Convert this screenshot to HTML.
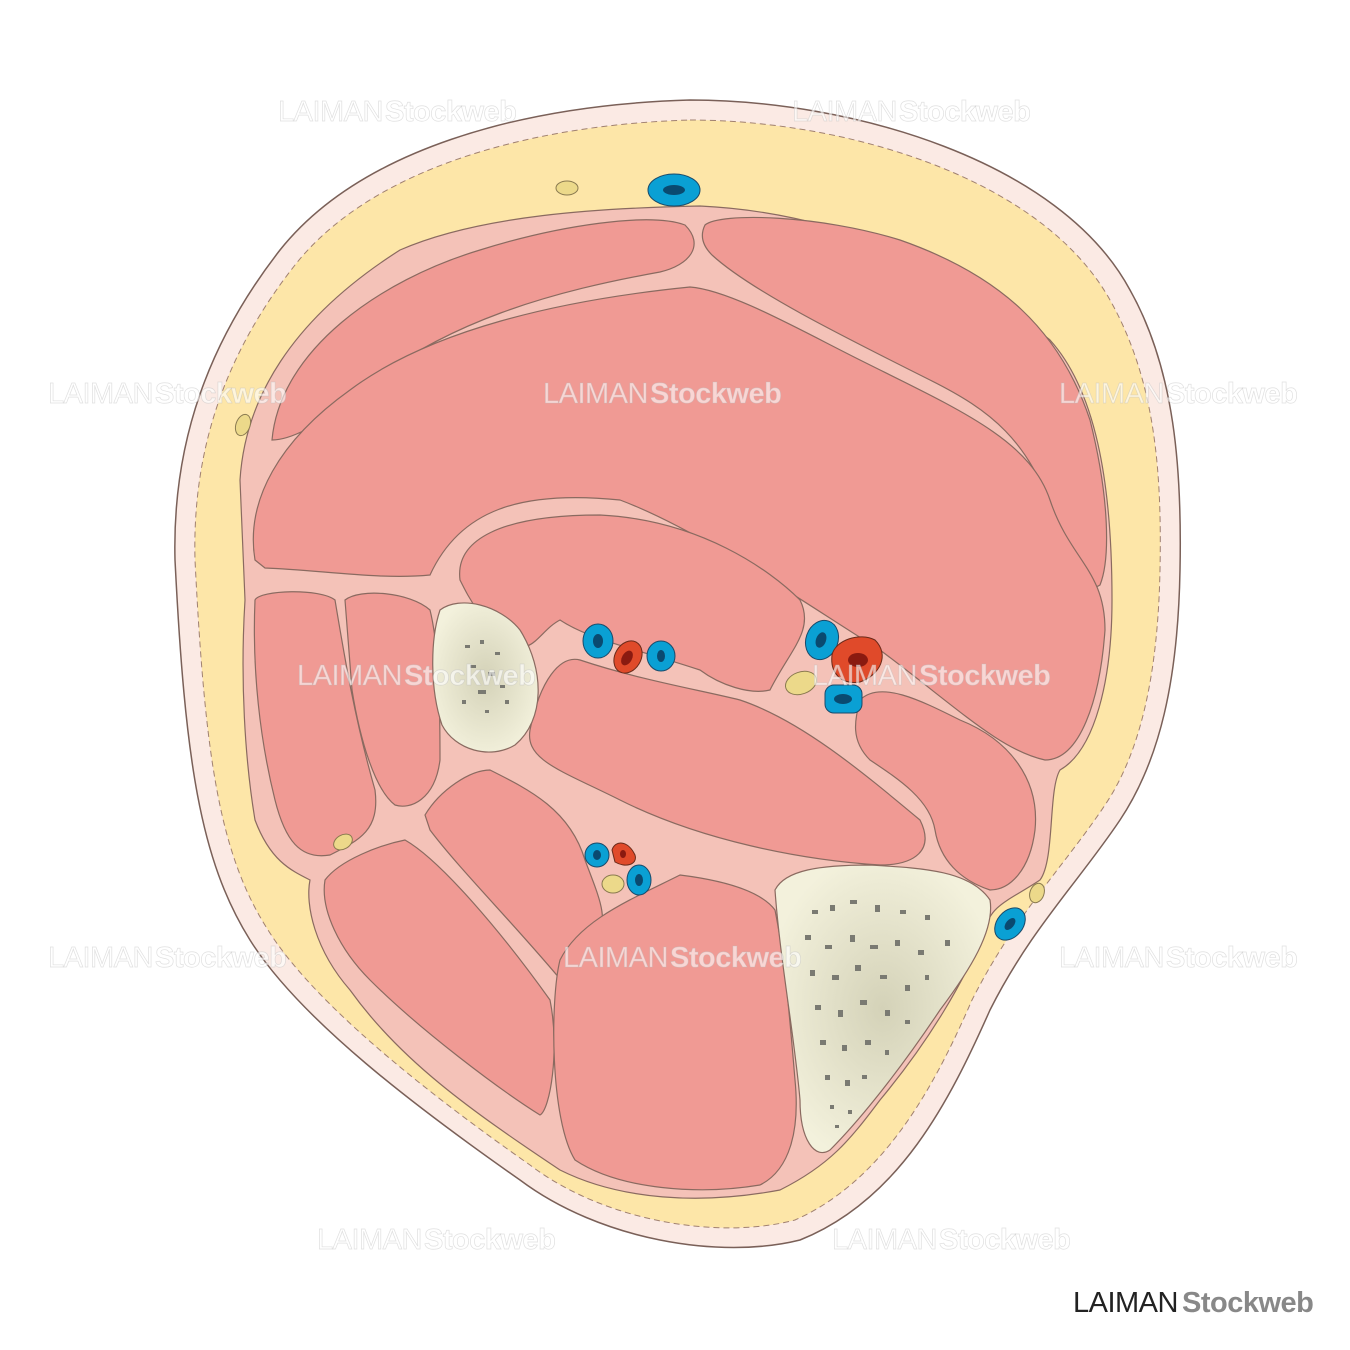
<!DOCTYPE html>
<html><head><meta charset="utf-8"><style>
html,body{margin:0;padding:0;background:#fff;}
svg{display:block}
.wm{font-family:"Liberation Sans",sans-serif;font-size:29px;fill:#fff;fill-opacity:.6;stroke:#bbb;stroke-opacity:.45;stroke-width:.7;letter-spacing:-0.5px}
.wm tspan.b{font-weight:bold}
</style></head><body>
<svg width="1350" height="1350" viewBox="0 0 1350 1350" xmlns="http://www.w3.org/2000/svg">
<defs>
<radialGradient id="bg" cx="50%" cy="50%" r="55%"><stop offset="0" stop-color="#d4d2b8"/><stop offset="1" stop-color="#f3f1dc"/></radialGradient>
</defs>
<path d="M690,100 C850,100 1060,160 1130,290 C1175,370 1182,470 1180,570 C1178,680 1160,760 1120,820 C1080,880 1030,930 990,1010 C950,1100 900,1200 800,1240 C720,1260 600,1240 520,1180 C420,1110 300,1020 250,940 C200,860 185,760 175,560 C172,440 210,340 280,250 C360,150 520,105 690,100 Z" fill="#fbeae4" stroke="#7a6058" stroke-width="1.5"/>
<path d="M690,120 C840,120 1040,175 1110,300 C1155,380 1162,470 1160,570 C1158,670 1142,750 1105,805 C1065,865 1015,915 972,1000 C935,1085 885,1180 795,1220 C720,1240 605,1222 530,1165 C430,1095 315,1005 268,930 C220,855 205,760 195,560 C192,445 228,350 295,265 C370,170 525,125 690,120 Z" fill="#fde6a8" stroke="#a08070" stroke-width="1" stroke-dasharray="6,4"/>
<path d="M240,480 C245,400 290,320 400,250 C480,215 600,208 700,206 C830,212 960,265 1050,340 C1095,390 1112,480 1112,600 C1112,680 1095,750 1060,770 C1048,790 1055,860 1040,880 C1010,900 990,905 985,930 C965,980 930,1040 880,1100 C850,1140 830,1165 780,1190 C700,1205 620,1200 560,1170 C470,1110 400,1060 350,990 C315,950 305,905 310,880 C290,870 270,860 255,820 C245,760 240,680 245,600 Z" fill="#f4c2b8" stroke="#8a6a60" stroke-width="1.2"/>
<g fill="#f09a94" stroke="#8a6a60" stroke-width="1.2">
<path d="M272,440 C280,350 380,280 480,250 C560,225 650,212 685,225 C705,245 690,265 660,272 C560,290 440,320 350,400 C320,425 290,440 272,440 Z"/>
<path d="M705,225 C720,212 820,215 900,240 C1000,275 1060,330 1090,420 C1110,500 1110,560 1100,585 C1085,595 1070,570 1055,520 C1030,440 990,410 930,380 C840,335 750,290 712,255 C702,245 700,235 705,225 Z"/>
<path d="M255,560 C245,500 280,440 350,390 C430,330 560,300 690,287 C730,290 800,330 860,360 C960,410 1030,440 1050,500 C1070,560 1105,570 1105,630 C1100,700 1080,760 1045,760 C1000,750 960,710 880,650 C800,600 700,530 620,500 C520,490 460,510 430,575 C380,580 320,570 265,568 Z"/>
<path d="M460,580 C455,540 500,515 600,515 C700,520 770,570 800,600 C815,630 790,650 770,690 C750,695 720,685 700,670 C640,650 590,640 560,620 C540,630 530,660 510,640 C480,620 470,600 460,580 Z"/>
<path d="M255,600 C260,590 320,588 335,600 C345,660 355,720 375,790 C380,830 360,840 330,855 C300,860 285,840 275,800 C260,740 252,670 255,600 Z"/>
<path d="M345,600 C360,588 410,592 430,610 C440,650 440,720 440,760 C435,800 410,810 395,805 C375,790 360,740 352,690 Z"/>
<path d="M530,730 C540,680 560,655 580,660 C640,680 700,690 740,700 C800,720 860,770 920,820 C935,850 915,865 880,865 C800,860 700,840 620,800 C560,770 525,760 530,730 Z"/>
<path d="M860,700 C880,680 920,700 960,720 C1010,740 1040,780 1035,830 C1030,870 1010,890 990,890 C960,880 940,860 935,830 C930,800 900,780 870,760 C850,740 855,720 860,700 Z"/>
<path d="M325,880 C340,860 380,845 405,840 C440,860 500,930 550,1000 C560,1050 550,1110 540,1115 C500,1090 420,1030 370,980 C340,950 320,910 325,880 Z"/>
<path d="M425,815 C440,790 470,770 490,770 C530,790 570,810 585,860 C600,900 610,920 595,940 C580,960 575,975 565,985 C520,930 460,870 430,830 Z"/>
<path d="M560,960 C580,920 630,900 680,875 C720,880 760,890 775,910 C785,960 790,1020 795,1080 C800,1130 790,1170 760,1185 C700,1195 620,1190 575,1160 C550,1120 550,1000 560,960 Z"/>
</g>
<path d="M440,610 C460,595 500,605 520,630 C545,670 545,720 515,745 C490,760 455,750 442,725 C430,690 430,640 440,610 Z" fill="url(#bg)" stroke="#8a6a60" stroke-width="1.2"/>
<path d="M775,890 C785,870 820,865 870,865 C920,868 970,870 990,900 C995,930 970,970 940,1010 C900,1070 860,1120 830,1150 C815,1160 800,1140 800,1100 C795,1040 780,960 775,890 Z" fill="url(#bg)" stroke="#8a6a60" stroke-width="1.2"/>
<g fill="#7a7a72">
<rect x="465" y="645" width="5" height="3"/><rect x="480" y="640" width="4" height="4"/><rect x="495" y="652" width="5" height="3"/><rect x="470" y="665" width="6" height="3"/><rect x="488" y="672" width="7" height="4"/><rect x="478" y="690" width="8" height="4"/><rect x="500" y="685" width="5" height="3"/><rect x="462" y="700" width="4" height="4"/><rect x="485" y="710" width="4" height="3"/><rect x="505" y="700" width="4" height="4"/>
<rect x="812" y="910" width="6" height="4"/><rect x="830" y="905" width="5" height="6"/><rect x="850" y="900" width="7" height="4"/><rect x="875" y="905" width="5" height="7"/><rect x="900" y="910" width="6" height="4"/><rect x="925" y="915" width="5" height="5"/><rect x="945" y="940" width="5" height="6"/>
<rect x="805" y="935" width="6" height="5"/><rect x="825" y="945" width="7" height="4"/><rect x="850" y="935" width="5" height="7"/><rect x="870" y="945" width="8" height="4"/><rect x="895" y="940" width="5" height="6"/><rect x="918" y="950" width="6" height="5"/>
<rect x="810" y="970" width="5" height="6"/><rect x="832" y="975" width="7" height="5"/><rect x="855" y="965" width="6" height="6"/><rect x="880" y="975" width="7" height="4"/><rect x="905" y="985" width="5" height="6"/><rect x="925" y="975" width="4" height="5"/>
<rect x="815" y="1005" width="6" height="5"/><rect x="838" y="1010" width="5" height="7"/><rect x="860" y="1000" width="7" height="5"/><rect x="885" y="1010" width="5" height="6"/><rect x="905" y="1020" width="5" height="4"/>
<rect x="820" y="1040" width="6" height="5"/><rect x="842" y="1045" width="5" height="6"/><rect x="865" y="1040" width="6" height="5"/><rect x="885" y="1050" width="4" height="5"/>
<rect x="825" y="1075" width="5" height="5"/><rect x="845" y="1080" width="5" height="6"/><rect x="862" y="1075" width="5" height="4"/><rect x="830" y="1105" width="4" height="4"/><rect x="848" y="1110" width="4" height="4"/><rect x="835" y="1125" width="4" height="3"/>
</g>
<g fill="#ecd98a" stroke="#8a7a50" stroke-width="1">
<ellipse cx="567" cy="188" rx="11" ry="7"/><ellipse cx="243" cy="425" rx="7" ry="11" transform="rotate(20 243 425)"/>
<ellipse cx="343" cy="842" rx="10" ry="7" transform="rotate(-30 343 842)"/><ellipse cx="613" cy="884" rx="11" ry="9"/>
<ellipse cx="801" cy="683" rx="16" ry="11" transform="rotate(-20 801 683)"/><ellipse cx="1037" cy="893" rx="7" ry="10" transform="rotate(20 1037 893)"/>
</g>
<g fill="#0aa0d4" stroke="#1a4a6a" stroke-width="1">
<ellipse cx="674" cy="190" rx="26" ry="16"/><ellipse cx="598" cy="641" rx="15" ry="17"/><ellipse cx="661" cy="656" rx="14" ry="15"/>
<ellipse cx="822" cy="640" rx="16" ry="20" transform="rotate(20 822 640)"/><rect x="825" y="685" width="37" height="28" rx="9"/>
<ellipse cx="597" cy="855" rx="12" ry="12"/><ellipse cx="639" cy="880" rx="12" ry="15"/><ellipse cx="1010" cy="924" rx="13" ry="18" transform="rotate(40 1010 924)"/>
</g>
<g fill="#0a4a70">
<ellipse cx="674" cy="190" rx="11" ry="5"/><ellipse cx="598" cy="641" rx="5" ry="7"/><ellipse cx="661" cy="656" rx="4" ry="6"/><ellipse cx="821" cy="640" rx="5" ry="8" transform="rotate(20 821 640)"/><ellipse cx="843" cy="699" rx="9" ry="5"/><ellipse cx="597" cy="855" rx="4" ry="5"/><ellipse cx="639" cy="880" rx="4" ry="6"/><ellipse cx="1010" cy="924" rx="4" ry="7" transform="rotate(40 1010 924)"/>
</g>
<g fill="#e04a2a" stroke="#6a2a1a" stroke-width="1">
<ellipse cx="628" cy="657" rx="13" ry="17" transform="rotate(30 628 657)"/>
<path d="M832,655 C835,640 860,632 875,640 C890,655 880,675 860,682 C840,685 830,672 832,655 Z"/>
<path d="M612,850 C615,840 628,840 635,855 C638,865 625,868 615,862 Z"/>
</g>
<g fill="#8a1a10"><ellipse cx="627" cy="658" rx="5" ry="8" transform="rotate(30 627 658)"/><ellipse cx="858" cy="660" rx="10" ry="7"/><ellipse cx="623" cy="854" rx="3" ry="4"/></g>
<g class="wm">
<text x="278" y="121">LAIMAN<tspan class="b" dx="2">Stockweb</tspan></text><text x="792" y="121">LAIMAN<tspan class="b" dx="2">Stockweb</tspan></text>
<text x="48" y="403">LAIMAN<tspan class="b" dx="2">Stockweb</tspan></text><text x="543" y="403">LAIMAN<tspan class="b" dx="2">Stockweb</tspan></text><text x="1059" y="403">LAIMAN<tspan class="b" dx="2">Stockweb</tspan></text>
<text x="297" y="685">LAIMAN<tspan class="b" dx="2">Stockweb</tspan></text><text x="812" y="685">LAIMAN<tspan class="b" dx="2">Stockweb</tspan></text>
<text x="48" y="967">LAIMAN<tspan class="b" dx="2">Stockweb</tspan></text><text x="563" y="967">LAIMAN<tspan class="b" dx="2">Stockweb</tspan></text><text x="1059" y="967">LAIMAN<tspan class="b" dx="2">Stockweb</tspan></text>
<text x="317" y="1249">LAIMAN<tspan class="b" dx="2">Stockweb</tspan></text><text x="832" y="1249">LAIMAN<tspan class="b" dx="2">Stockweb</tspan></text>
</g>
<text x="1073" y="1312" font-family="Liberation Sans,sans-serif" font-size="29" letter-spacing="-0.5"><tspan fill="#222">LAIMAN</tspan><tspan fill="#888" dx="4" font-weight="bold">Stockweb</tspan></text>
</svg>
</body></html>
